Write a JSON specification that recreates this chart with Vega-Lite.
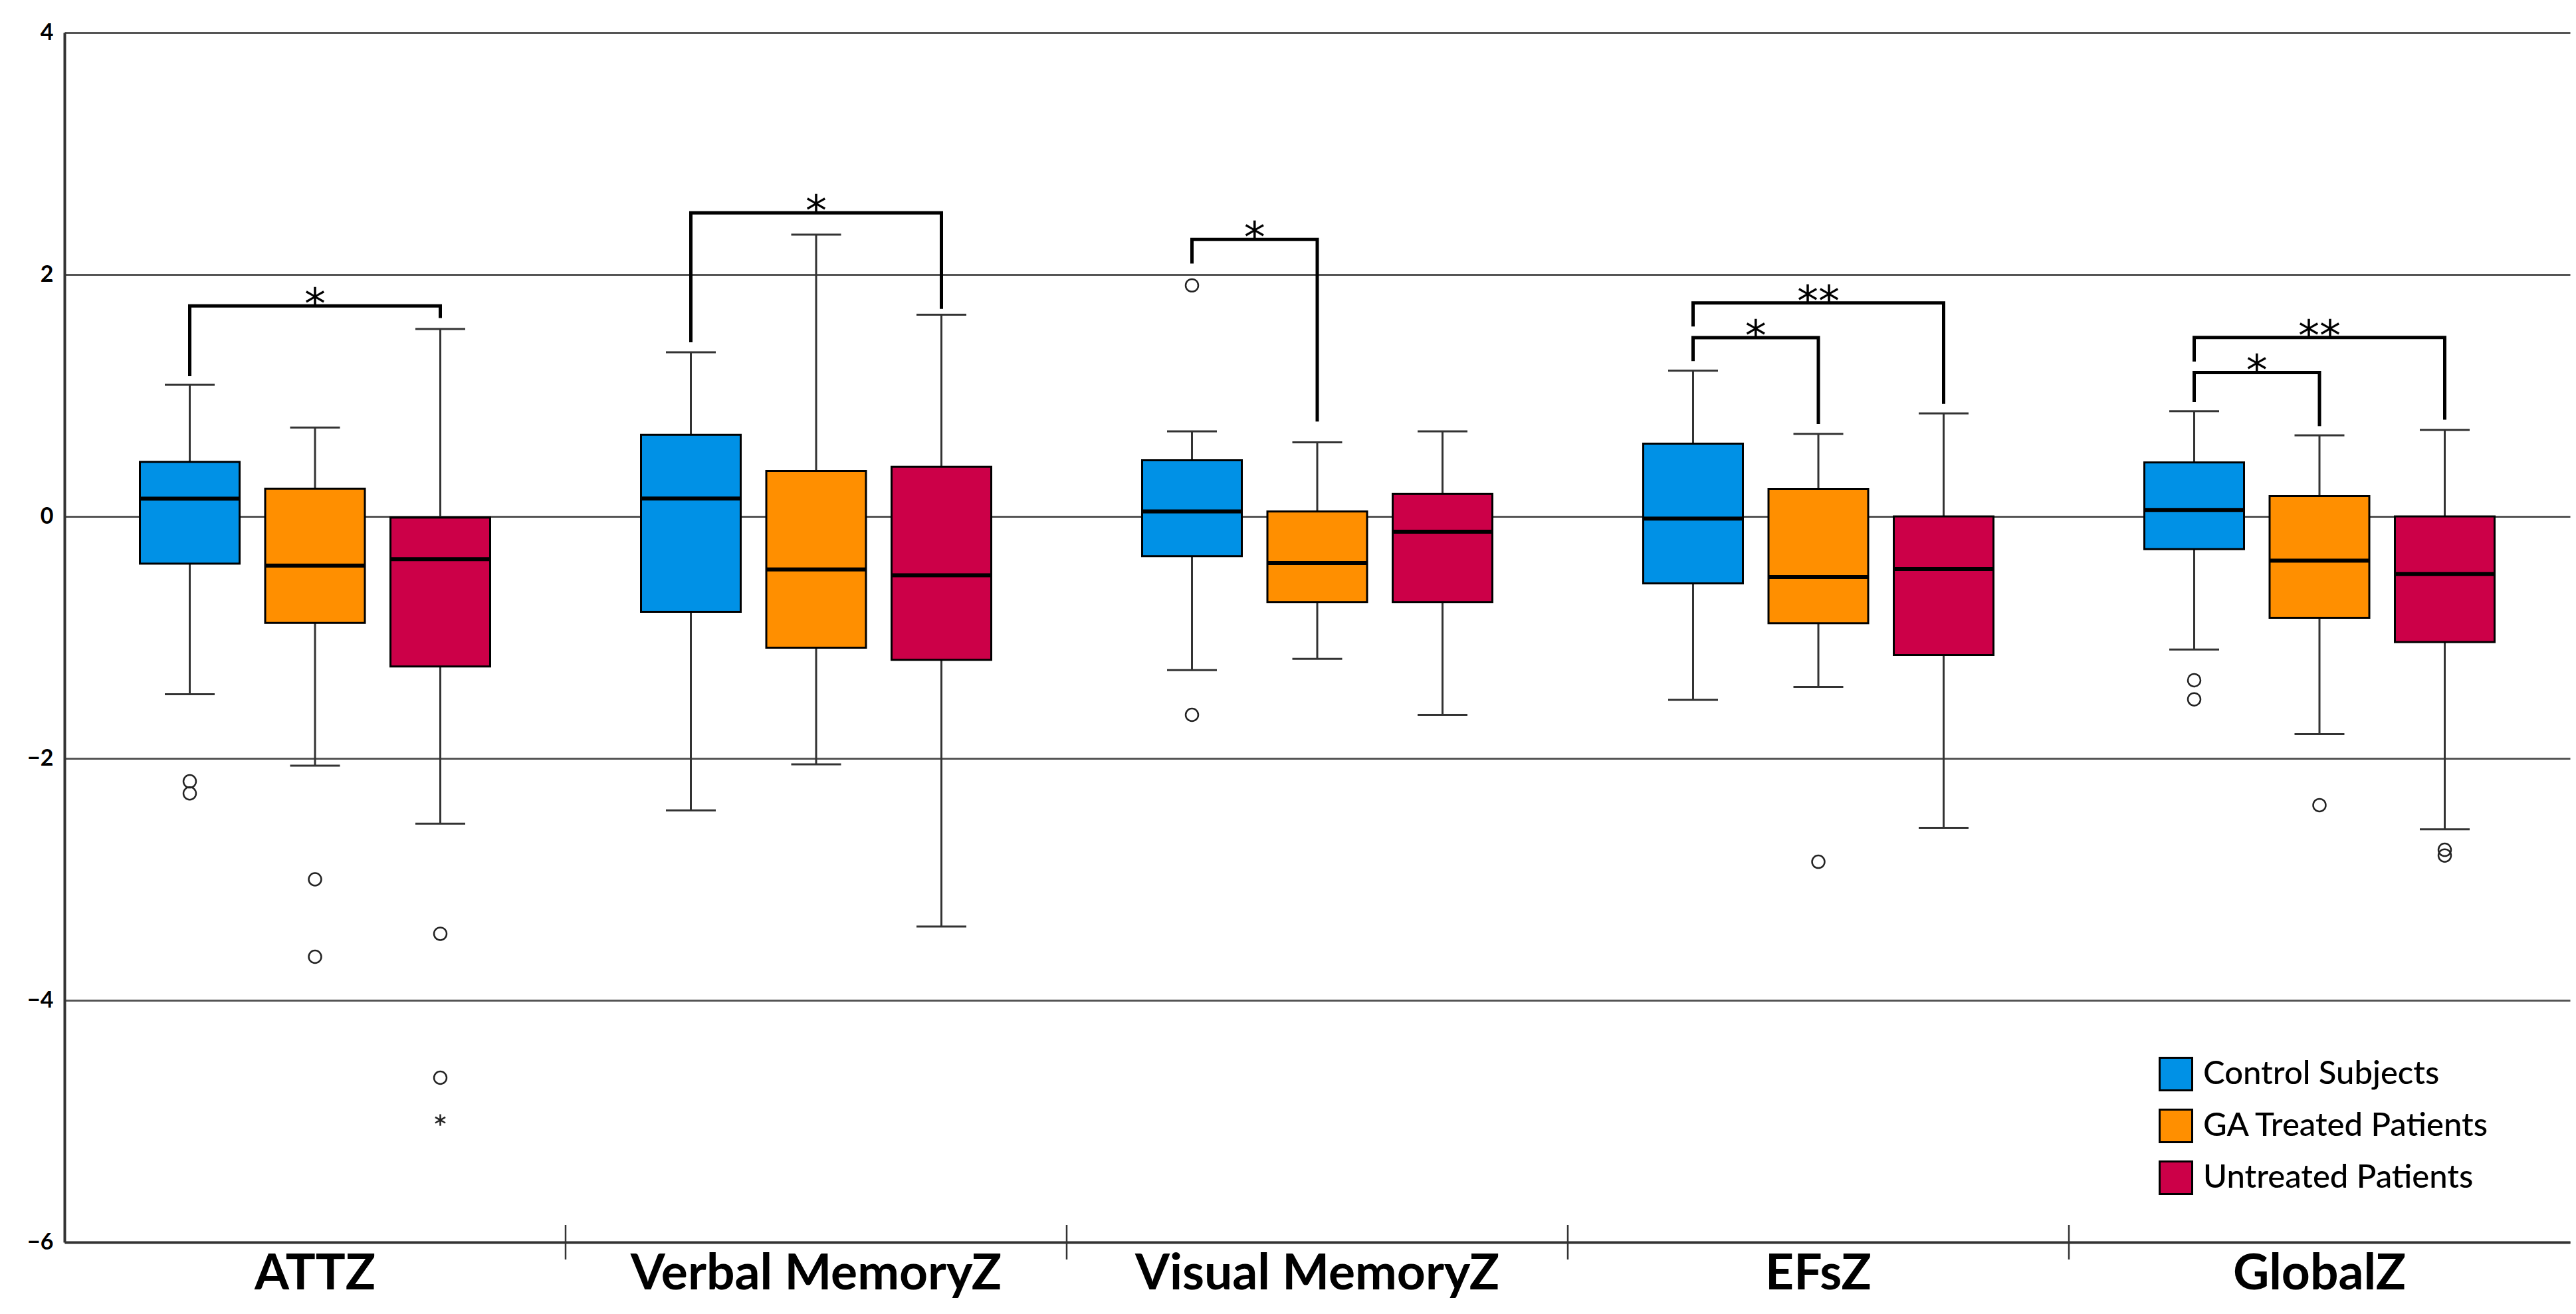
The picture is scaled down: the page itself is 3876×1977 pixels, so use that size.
{
  "$schema": "https://vega.github.io/schema/vega-lite/v6.json",
  "width": 3770,
  "height": 1820,
  "autosize": {"type": "none"},
  "padding": {"left": 97, "top": 49, "right": 9, "bottom": 108},
  "background": "white",
  "config": {
    "view": {"stroke": null},
    "font": "Lato",
    "axisX": {"domain": true, "domainColor": "#333333", "domainWidth": 4, "ticks": false, "grid": false, "labelFont": "Lato", "labelFontSize": 75, "labelFontWeight": "bold", "labelColor": "black", "labelPadding": 11, "labelAngle": 0, "labelLimit": 0},
    "axisY": {"domain": true, "domainColor": "#333333", "domainWidth": 4, "ticks": false, "grid": true, "gridColor": "#555555", "gridWidth": 3, "labelFont": "Lato", "labelFontSize": 34, "labelFontWeight": "bold", "labelColor": "black", "labelPadding": 17, "format": "d"}
  },
  "datasets": {
    "boxes": [
      {"test": "ATTZ", "group": "Control Subjects", "slot": "Control Subjects", "lower": -1.47, "q1": -0.39, "median": 0.147, "q3": 0.451, "upper": 1.088},
      {"test": "ATTZ", "group": "GA Treated Patients", "slot": "GA Treated Patients", "lower": -2.06, "q1": -0.88, "median": -0.407, "q3": 0.23, "upper": 0.735},
      {"test": "ATTZ", "group": "Untreated Patients", "slot": "Untreated Patients", "lower": -2.54, "q1": -1.24, "median": -0.353, "q3": -0.01, "upper": 1.55},
      {"test": "Verbal MemoryZ", "group": "Control Subjects", "slot": "Control Subjects", "lower": -2.43, "q1": -0.788, "median": 0.149, "q3": 0.674, "upper": 1.357},
      {"test": "Verbal MemoryZ", "group": "GA Treated Patients", "slot": "GA Treated Patients", "lower": -2.05, "q1": -1.085, "median": -0.438, "q3": 0.376, "upper": 2.33},
      {"test": "Verbal MemoryZ", "group": "Untreated Patients", "slot": "Untreated Patients", "lower": -3.39, "q1": -1.186, "median": -0.486, "q3": 0.411, "upper": 1.667},
      {"test": "Visual MemoryZ", "group": "Control Subjects", "slot": "Control Subjects", "lower": -1.27, "q1": -0.328, "median": 0.041, "q3": 0.464, "upper": 0.703},
      {"test": "Visual MemoryZ", "group": "GA Treated Patients", "slot": "GA Treated Patients", "lower": -1.177, "q1": -0.707, "median": -0.385, "q3": 0.041, "upper": 0.612},
      {"test": "Visual MemoryZ", "group": "Untreated Patients", "slot": "Untreated Patients", "lower": -1.64, "q1": -0.707, "median": -0.126, "q3": 0.186, "upper": 0.703},
      {"test": "EFsZ", "group": "Control Subjects", "slot": "Control Subjects", "lower": -1.517, "q1": -0.553, "median": -0.018, "q3": 0.602, "upper": 1.205},
      {"test": "EFsZ", "group": "GA Treated Patients", "slot": "GA Treated Patients", "lower": -1.41, "q1": -0.883, "median": -0.5, "q3": 0.228, "upper": 0.683},
      {"test": "EFsZ", "group": "Untreated Patients", "slot": "Untreated Patients", "lower": -2.574, "q1": -1.145, "median": -0.434, "q3": 0.0, "upper": 0.851},
      {"test": "GlobalZ", "group": "Control Subjects", "slot": "Control Subjects", "lower": -1.1, "q1": -0.271, "median": 0.054, "q3": 0.447, "upper": 0.869},
      {"test": "GlobalZ", "group": "GA Treated Patients", "slot": "GA Treated Patients", "lower": -1.8, "q1": -0.838, "median": -0.365, "q3": 0.167, "upper": 0.671},
      {"test": "GlobalZ", "group": "Untreated Patients", "slot": "Untreated Patients", "lower": -2.586, "q1": -1.039, "median": -0.476, "q3": 0.0, "upper": 0.715}
    ],
    "outliers": [
      {"test": "ATTZ", "slot": "Control Subjects", "value": -2.19, "kind": "outlier"},
      {"test": "ATTZ", "slot": "Control Subjects", "value": -2.29, "kind": "outlier"},
      {"test": "ATTZ", "slot": "GA Treated Patients", "value": -3.0, "kind": "outlier"},
      {"test": "ATTZ", "slot": "GA Treated Patients", "value": -3.64, "kind": "outlier"},
      {"test": "ATTZ", "slot": "Untreated Patients", "value": -3.45, "kind": "outlier"},
      {"test": "ATTZ", "slot": "Untreated Patients", "value": -4.64, "kind": "outlier"},
      {"test": "ATTZ", "slot": "Untreated Patients", "value": -4.99, "kind": "extreme"},
      {"test": "Visual MemoryZ", "slot": "Control Subjects", "value": 1.91, "kind": "outlier"},
      {"test": "Visual MemoryZ", "slot": "Control Subjects", "value": -1.64, "kind": "outlier"},
      {"test": "EFsZ", "slot": "GA Treated Patients", "value": -2.855, "kind": "outlier"},
      {"test": "GlobalZ", "slot": "Control Subjects", "value": -1.354, "kind": "outlier"},
      {"test": "GlobalZ", "slot": "Control Subjects", "value": -1.512, "kind": "outlier"},
      {"test": "GlobalZ", "slot": "GA Treated Patients", "value": -2.387, "kind": "outlier"},
      {"test": "GlobalZ", "slot": "Untreated Patients", "value": -2.756, "kind": "outlier"},
      {"test": "GlobalZ", "slot": "Untreated Patients", "value": -2.803, "kind": "outlier"}
    ],
    "brackets": [
      {"bracket": "b1", "test": "ATTZ", "slot": "Control Subjects", "value": 1.16, "ord": 1},
      {"bracket": "b1", "test": "ATTZ", "slot": "Control Subjects", "value": 1.74, "ord": 2},
      {"bracket": "b1", "test": "ATTZ", "slot": "Untreated Patients", "value": 1.74, "ord": 3},
      {"bracket": "b1", "test": "ATTZ", "slot": "Untreated Patients", "value": 1.64, "ord": 4},
      {"bracket": "b2", "test": "Verbal MemoryZ", "slot": "Control Subjects", "value": 1.44, "ord": 1},
      {"bracket": "b2", "test": "Verbal MemoryZ", "slot": "Control Subjects", "value": 2.51, "ord": 2},
      {"bracket": "b2", "test": "Verbal MemoryZ", "slot": "Untreated Patients", "value": 2.51, "ord": 3},
      {"bracket": "b2", "test": "Verbal MemoryZ", "slot": "Untreated Patients", "value": 1.716, "ord": 4},
      {"bracket": "b3", "test": "Visual MemoryZ", "slot": "Control Subjects", "value": 2.09, "ord": 1},
      {"bracket": "b3", "test": "Visual MemoryZ", "slot": "Control Subjects", "value": 2.29, "ord": 2},
      {"bracket": "b3", "test": "Visual MemoryZ", "slot": "GA Treated Patients", "value": 2.29, "ord": 3},
      {"bracket": "b3", "test": "Visual MemoryZ", "slot": "GA Treated Patients", "value": 0.785, "ord": 4},
      {"bracket": "b4", "test": "EFsZ", "slot": "Control Subjects", "value": 1.57, "ord": 1},
      {"bracket": "b4", "test": "EFsZ", "slot": "Control Subjects", "value": 1.765, "ord": 2},
      {"bracket": "b4", "test": "EFsZ", "slot": "Untreated Patients", "value": 1.765, "ord": 3},
      {"bracket": "b4", "test": "EFsZ", "slot": "Untreated Patients", "value": 0.93, "ord": 4},
      {"bracket": "b5", "test": "EFsZ", "slot": "Control Subjects", "value": 1.285, "ord": 1},
      {"bracket": "b5", "test": "EFsZ", "slot": "Control Subjects", "value": 1.478, "ord": 2},
      {"bracket": "b5", "test": "EFsZ", "slot": "GA Treated Patients", "value": 1.478, "ord": 3},
      {"bracket": "b5", "test": "EFsZ", "slot": "GA Treated Patients", "value": 0.764, "ord": 4},
      {"bracket": "b6", "test": "GlobalZ", "slot": "Control Subjects", "value": 1.28, "ord": 1},
      {"bracket": "b6", "test": "GlobalZ", "slot": "Control Subjects", "value": 1.48, "ord": 2},
      {"bracket": "b6", "test": "GlobalZ", "slot": "Untreated Patients", "value": 1.48, "ord": 3},
      {"bracket": "b6", "test": "GlobalZ", "slot": "Untreated Patients", "value": 0.8, "ord": 4},
      {"bracket": "b7", "test": "GlobalZ", "slot": "Control Subjects", "value": 0.945, "ord": 1},
      {"bracket": "b7", "test": "GlobalZ", "slot": "Control Subjects", "value": 1.19, "ord": 2},
      {"bracket": "b7", "test": "GlobalZ", "slot": "GA Treated Patients", "value": 1.19, "ord": 3},
      {"bracket": "b7", "test": "GlobalZ", "slot": "GA Treated Patients", "value": 0.746, "ord": 4}
    ],
    "stars": [
      {"test": "ATTZ", "slot": "GA Treated Patients", "value": 1.74, "label": "*"},
      {"test": "Verbal MemoryZ", "slot": "GA Treated Patients", "value": 2.51, "label": "*"},
      {"test": "Visual MemoryZ", "slot": "Control–GA", "value": 2.29, "label": "*"},
      {"test": "EFsZ", "slot": "GA Treated Patients", "value": 1.765, "label": "**"},
      {"test": "EFsZ", "slot": "Control–GA", "value": 1.478, "label": "*"},
      {"test": "GlobalZ", "slot": "GA Treated Patients", "value": 1.48, "label": "**"},
      {"test": "GlobalZ", "slot": "Control–GA", "value": 1.19, "label": "*"}
    ],
    "separators": [
      {"test": "Verbal MemoryZ"},
      {"test": "Visual MemoryZ"},
      {"test": "EFsZ"},
      {"test": "GlobalZ"}
    ]
  },
  "encoding": {
    "x": {"field": "test", "type": "nominal", "title": null,
      "scale": {"domain": ["ATTZ", "Verbal MemoryZ", "Visual MemoryZ", "EFsZ", "GlobalZ"], "paddingInner": 0, "paddingOuter": 0}},
    "xOffset": {"field": "slot", "type": "nominal",
      "scale": {"domain": ["left margin", "Control Subjects", "Control–GA", "GA Treated Patients", "GA–Untreated", "Untreated Patients", "right margin"], "paddingInner": 0, "paddingOuter": 0.5}}
  },
  "layer": [
    {
      "data": {"name": "separators"},
      "mark": {"type": "rule", "color": "#333333", "strokeWidth": 2.5},
      "encoding": {
        "x": {"field": "test", "type": "nominal", "bandPosition": 0, "title": null},
        "xOffset": null,
        "y": {"datum": -5.857, "type": "quantitative", "scale": {"domain": [-6, 4], "nice": false, "zero": false}, "axis": {"values": [-6, -4, -2, 0, 2, 4]}, "title": null},
        "y2": {"datum": -6.143}
      }
    },
    {
      "data": {"name": "boxes"},
      "mark": {"type": "rule", "color": "#333333", "strokeWidth": 3},
      "encoding": {
        "y": {"field": "lower", "type": "quantitative", "title": null},
        "y2": {"field": "upper"}
      }
    },
    {
      "data": {"name": "boxes"},
      "mark": {"type": "tick", "color": "#333333", "thickness": 3, "size": 75, "opacity": 1},
      "encoding": {
        "y": {"field": "lower", "type": "quantitative", "title": null}
      }
    },
    {
      "data": {"name": "boxes"},
      "mark": {"type": "tick", "color": "#333333", "thickness": 3, "size": 75, "opacity": 1},
      "encoding": {
        "y": {"field": "upper", "type": "quantitative", "title": null}
      }
    },
    {
      "data": {"name": "boxes"},
      "mark": {"type": "bar", "width": 150, "stroke": "black", "strokeWidth": 3, "opacity": 1},
      "encoding": {
        "y": {"field": "q1", "type": "quantitative", "title": null},
        "y2": {"field": "q3"},
        "color": {"field": "group", "type": "nominal",
          "scale": {"domain": ["Control Subjects", "GA Treated Patients", "Untreated Patients"], "range": ["#0091E6", "#FF8F00", "#CC0048"]},
          "legend": {"title": null, "orient": "none", "legendX": 3151, "legendY": 1541, "padding": 0, "symbolType": "square", "symbolSize": 2400, "symbolStrokeColor": "black", "symbolStrokeWidth": 3, "symbolOpacity": 1, "labelFont": "Lato", "labelFontSize": 49, "labelFontWeight": 500, "labelColor": "black", "labelOffset": 15, "labelLimit": 0, "rowPadding": 16}}
      }
    },
    {
      "data": {"name": "boxes"},
      "mark": {"type": "tick", "color": "black", "thickness": 6, "size": 150, "opacity": 1},
      "encoding": {
        "y": {"field": "median", "type": "quantitative", "title": null}
      }
    },
    {
      "data": {"name": "outliers"},
      "transform": [{"filter": "datum.kind === 'outlier'"}],
      "mark": {"type": "point", "shape": "circle", "filled": false, "color": "#222222", "strokeWidth": 2.5, "size": 360, "opacity": 1},
      "encoding": {
        "y": {"field": "value", "type": "quantitative", "title": null}
      }
    },
    {
      "data": {"name": "outliers"},
      "transform": [{"filter": "datum.kind === 'extreme'"}],
      "mark": {"type": "point", "shape": "M0,-1L0,1M-0.87,-0.5L0.87,0.5M-0.87,0.5L0.87,-0.5", "filled": false, "color": "#222222", "strokeWidth": 2.5, "size": 300, "opacity": 1},
      "encoding": {
        "y": {"field": "value", "type": "quantitative", "title": null}
      }
    },
    {
      "data": {"name": "brackets"},
      "mark": {"type": "line", "color": "black", "strokeWidth": 5, "strokeJoin": "miter", "strokeCap": "butt"},
      "encoding": {
        "y": {"field": "value", "type": "quantitative", "title": null},
        "detail": {"field": "bracket"},
        "order": {"field": "ord", "type": "quantitative"}
      }
    },
    {
      "data": {"name": "stars"},
      "mark": {"type": "text", "font": "DejaVu Sans", "fontSize": 64, "baseline": "alphabetic", "align": "center", "dy": 19, "color": "black"},
      "encoding": {
        "y": {"field": "value", "type": "quantitative", "title": null},
        "text": {"field": "label"}
      }
    }
  ]
}
